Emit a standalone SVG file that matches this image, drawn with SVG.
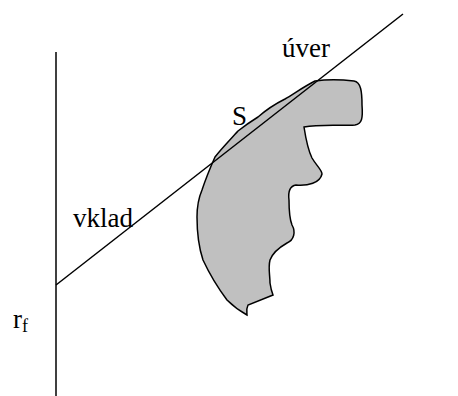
<svg xmlns="http://www.w3.org/2000/svg" width="458" height="396" viewBox="0 0 458 396">
<style>
.ln{stroke:#000;stroke-width:1.5;fill:none}
.t{font-size:27px;fill:#000}
</style>
<rect width="458" height="396" fill="#fff"/>
<g id="set">
<path d="M315,81 C330,79 345,80 354,81 C361,82 362,92 362,105 C363,118 362,124 355,125 C340,126 320,124 304,127 C306,140 308,150 312,158 C316,165 322,170 322,174 C320,183 308,186 296,185 C290,186 288,192 289,200 C289,210 290,220 292,225 C296,232 294,240 287,243 C280,247 273,252 270,260 C268,268 270,275 270,283 C271,290 273,295 273,295 L248,305 C246,309 247,313 247,315 C238,310 232,305 227,300 C218,288 210,275 203,260 C199,248 197,232 197,217 C197,205 199,197 202,190 C206,178 211,166 215,157 C222,148 230,140 238,131 C243,127 250,122 258,117 C266,110 275,104 285,99 C295,93 305,86 315,81 Z" fill="#c0c0c0" stroke="#000" stroke-width="1.5"/>
</g>
<g id="connectors">
<line class="ln" x1="56" y1="52" x2="56" y2="396"/>
<line class="ln" x1="56" y1="285" x2="403" y2="14"/>
</g>
<g id="labels" font-family="Liberation Serif, DejaVu Serif, serif">
<text class="t" x="73" y="227">vklad</text>
<text class="t" x="282" y="57">úver</text>
<text class="t" x="232" y="125">S</text>
<text class="t" x="13" y="328">r<tspan font-size="18" dy="4">f</tspan></text>
</g>
</svg>
